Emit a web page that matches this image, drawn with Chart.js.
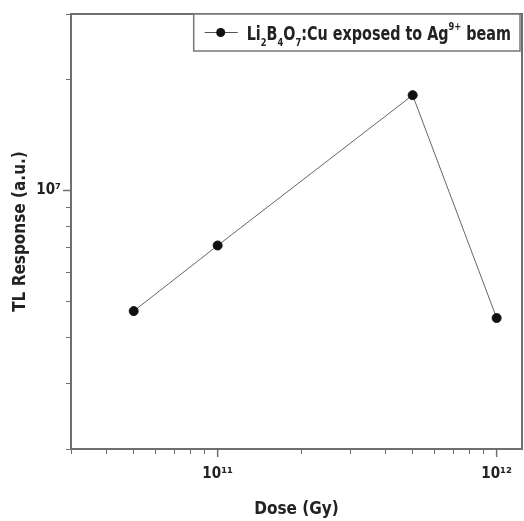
<!DOCTYPE html>
<html lang="en">
<head>
<meta charset="UTF-8">
<title>TL Response vs Dose</title>
<script src="https://cdn.jsdelivr.net/npm/chart.js@4.4.0/dist/chart.umd.min.js"></script>
<style>
  html, body { margin: 0; padding: 0; background: #fff; }
</style>
</head>
<body>
<canvas id="myChart" width="524" height="521"></canvas>
<script>
// data
const doses = [5e10, 1e11, 5e11, 1e12];
const tlResponse = [4.72e6, 7.1e6, 1.81e7, 4.52e6];
const seriesLabel = 'Li2B4O7:Cu exposed to Ag9+ beam';
// legend label pieces: [text, 'sub' | 'sup' | '']
const legendParts = [['Li', ''], ['2', 'sub'], ['B', ''], ['4', 'sub'], ['O', ''], ['7', 'sub'], [':Cu exposed to Ag', ''], ['9+', 'sup'], [' beam', '']];

const xTickValues = [3e10, 4e10, 5e10, 6e10, 7e10, 8e10, 9e10, 1e11, 2e11, 3e11, 4e11, 5e11, 6e11, 7e11, 8e11, 9e11, 1e12];
const yTickValues = [2e6, 3e6, 4e6, 5e6, 6e6, 7e6, 8e6, 9e6, 1e7, 2e7, 3e7];
const xTickLabels = { 1e11: '10¹¹', 1e12: '10¹²' };
const yTickLabels = { 1e7: '10⁷' };

const FONT = '"Liberation Sans Narrow", "DejaVu Sans Condensed", "Liberation Sans", sans-serif';
const AXIS_GRAY = '#6f6f6f';

// frame, longer major ticks, and the legend box in the top right corner
const framePlugin = {
    id: 'frame',
    afterDraw(chart) {
        const ctx = chart.ctx;
        const a = chart.chartArea;
        ctx.save();
        ctx.strokeStyle = AXIS_GRAY;
        ctx.lineWidth = 2;
        ctx.strokeRect(a.left, a.top, a.right - a.left, a.bottom - a.top);

        // major ticks stick out further than the minor ones
        ctx.lineWidth = 1.5;
        ctx.beginPath();
        Object.keys(xTickLabels).forEach(v => {
            const px = chart.scales.x.getPixelForValue(Number(v));
            ctx.moveTo(px, a.bottom);
            ctx.lineTo(px, a.bottom + 8);
        });
        Object.keys(yTickLabels).forEach(v => {
            const py = chart.scales.y.getPixelForValue(Number(v));
            ctx.moveTo(a.left, py);
            ctx.lineTo(a.left - 8, py);
        });
        ctx.stroke();

        // legend
        const big = 'bold 19px ' + FONT;
        const small = 'bold 11px ' + FONT;
        const squeeze = 0.84;
        let textW = 0;
        legendParts.forEach(p => {
            ctx.font = p[1] ? small : big;
            textW += ctx.measureText(p[0]).width;
        });
        const boxH = 37;
        const boxW = textW * squeeze + 62;
        const bx = a.right - 2 - boxW;
        const by = a.top;
        ctx.fillStyle = '#fff';
        ctx.fillRect(bx, by, boxW, boxH);
        ctx.lineWidth = 1.5;
        ctx.strokeStyle = '#777';
        ctx.strokeRect(bx, by, boxW, boxH);

        const cy = by + boxH / 2;
        ctx.strokeStyle = '#555';
        ctx.lineWidth = 1;
        ctx.beginPath();
        ctx.moveTo(bx + 11, cy);
        ctx.lineTo(bx + 44, cy);
        ctx.stroke();
        ctx.fillStyle = '#111';
        ctx.beginPath();
        ctx.arc(bx + 27, cy, 4.5, 0, Math.PI * 2);
        ctx.fill();

        ctx.translate(bx + 53, 0);
        ctx.scale(squeeze, 1);
        let tx = 0;
        ctx.textBaseline = 'alphabetic';
        ctx.fillStyle = '#222';
        legendParts.forEach(p => {
            let ty = cy + 7;
            if (p[1] === 'sub') ty += 6;
            if (p[1] === 'sup') ty -= 10;
            ctx.font = p[1] ? small : big;
            ctx.fillText(p[0], tx, ty);
            tx += ctx.measureText(p[0]).width;
        });
        ctx.restore();
    }
};

const ctx = document.getElementById('myChart').getContext('2d');
new Chart(ctx, {
    type: 'line',
    data: {
        datasets: [{
            label: seriesLabel,
            data: doses.map((d, i) => ({ x: d, y: tlResponse[i] })),
            borderColor: '#666',
            borderWidth: 1,
            pointBackgroundColor: '#111',
            pointBorderColor: '#111',
            pointRadius: 4.5,
            fill: false,
            tension: 0
        }]
    },
    options: {
        responsive: false,
        animation: false,
        layout: { autoPadding: false, padding: { top: 13, right: 2, left: 0, bottom: 0 } },
        plugins: {
            legend: { display: false },
            tooltip: { enabled: false }
        },
        scales: {
            x: {
                type: 'logarithmic',
                min: 2.98e10,
                max: 1.233e12,
                afterBuildTicks: s => { s.ticks = xTickValues.map(v => ({ value: v })); },
                afterFit: s => { s.height = 72; },
                grid: { drawOnChartArea: false, drawTicks: true, tickLength: 5, color: AXIS_GRAY, tickColor: AXIS_GRAY },
                border: { display: true, color: AXIS_GRAY, width: 2 },
                ticks: {
                    autoSkip: false,
                    maxRotation: 0,
                    padding: 11,
                    color: '#222',
                    font: { family: FONT, size: 15, weight: 'bold' },
                    callback: v => xTickLabels[v] || ''
                },
                title: {
                    display: true,
                    text: 'Dose (Gy)',
                    color: '#222',
                    font: { family: FONT, size: 17, weight: 'bold' },
                    padding: { top: 0, bottom: 1 }
                }
            },
            y: {
                type: 'logarithmic',
                min: 2e6,
                max: 3e7,
                afterBuildTicks: s => { s.ticks = yTickValues.map(v => ({ value: v })); },
                afterFit: s => { s.width = 71; },
                grid: { drawOnChartArea: false, drawTicks: true, tickLength: 5, color: AXIS_GRAY, tickColor: AXIS_GRAY },
                border: { display: true, color: AXIS_GRAY, width: 2 },
                ticks: {
                    autoSkip: false,
                    padding: 5,
                    color: '#222',
                    font: { family: FONT, size: 15, weight: 'bold' },
                    callback: v => yTickLabels[v] || ''
                },
                title: {
                    display: true,
                    text: 'TL Response (a.u.)',
                    color: '#222',
                    font: { family: FONT, size: 17, weight: 'bold' },
                    padding: { top: 10, bottom: 0 }
                }
            }
        }
    },
    plugins: [framePlugin]
});
</script>
</body>
</html>
